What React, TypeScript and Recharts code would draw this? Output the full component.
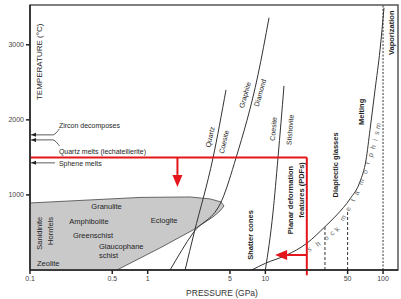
import React from "react"
import {
  ComposedChart,
  XAxis,
  YAxis,
  Line,
  Area,
  Scatter,
  ReferenceLine,
  ReferenceArea,
} from "recharts"

// Axis ticks (pressure in GPa, temperature in °C)
const X_TICKS = [0.1, 0.5, 1, 5, 10, 50, 100]
const Y_TICKS = [1000, 2000, 3000]
const X_DOMAIN = [0.1, 134]
const Y_DOMAIN = [0, 3530]

// Phase boundaries
const quartzCoesite = [
  { p: 2.08, t: 0 },
  { p: 2.48, t: 493 },
  { p: 3.59, t: 1493 },
  { p: 4.63, t: 2400 },
]
const graphiteDiamond = [
  { p: 1.55, t: 0 },
  { p: 2.43, t: 493 },
  { p: 4.28, t: 933 },
  { p: 5.63, t: 1493 },
  { p: 8.66, t: 2600 },
  { p: 10.74, t: 3360 },
]
const coesiteStishovite = [
  { p: 10.0, t: 0 },
  { p: 11.6, t: 760 },
  { p: 12.8, t: 1493 },
  { p: 14.4, t: 2453 },
]
const shockCurve = [
  { p: 7.66, t: 0 },
  { p: 10.0, t: 89 },
  { p: 15.2, t: 200 },
  { p: 22.5, t: 356 },
  { p: 32.1, t: 577 },
  { p: 40.4, t: 733 },
  { p: 52.4, t: 947 },
  { p: 63.7, t: 1177 },
  { p: 71.7, t: 1467 },
  { p: 77.5, t: 1867 },
  { p: 85.5, t: 2400 },
  { p: 94.3, t: 2933 },
  { p: 101.9, t: 3493 },
]

// Metamorphic facies field (closed outline)
const facies = [
  { p: 0.1, t: 0 },
  { p: 0.1, t: 893 },
  { p: 0.861, t: 967 },
  { p: 2.29, t: 973 },
  { p: 3.39, t: 947 },
  { p: 4.2, t: 907 },
  { p: 4.45, t: 853 },
  { p: 4.12, t: 787 },
  { p: 3.59, t: 707 },
  { p: 2.43, t: 533 },
  { p: 1.27, t: 293 },
  { p: 0.548, t: 0 },
  { p: 0.1, t: 0 },
]

// Dashed pressure limits
const dashed30 = [{ p: 32.1, t: 0 }, { p: 32.1, t: 577 }]
const dashed50 = [{ p: 50, t: 0 }, { p: 50, t: 790 }]
const dashed100 = [{ p: 100, t: 0 }, { p: 100, t: 3530 }]

// Red frame and arrows
const redHorizontal = [{ p: 0.1, t: 1500 }, { p: 22.5, t: 1500 }]
const redDownShaft = [{ p: 1.79, t: 1500 }, { p: 1.79, t: 1267 }]
const redLeftShaft = [{ p: 22.5, t: 200 }, { p: 15.3, t: 200 }]

// Small pointers on the temperature axis
const zirconPointer = [
  { p: 0.102, t: 1800 },
  { p: 0.1567, t: 1800 },
  { p: 0.1697, t: 1840 },
  { p: 0.178, t: 1880 },
]
const quartzPointer = [
  { p: 0.102, t: 1733 },
  { p: 0.1567, t: 1733 },
  { p: 0.1697, t: 1693 },
  { p: 0.178, t: 1653 },
]
const sphenePointer = [{ p: 0.102, t: 1427 }, { p: 0.163, t: 1427 }]

const RED = "#e3161b"

const arrowHeads = [
  { p: 1.79, t: 1107, dir: "down", len: 12, half: 5, color: RED },
  { p: 12.1, t: 200, dir: "left", len: 12, half: 5, color: RED },
  { p: 0.102, t: 1800, dir: "left", len: 5, half: 2, color: "#222" },
  { p: 0.102, t: 1733, dir: "left", len: 5, half: 2, color: "#222" },
  { p: 0.102, t: 1427, dir: "left", len: 5, half: 2, color: "#222" },
]

const labels = [
  { text: "TEMPERATURE (°C)", p: 0.1216, t: 2773, angle: -90, size: 8 },
  { text: "Zircon decomposes", p: 0.176, t: 1920, anchor: "start", size: 7 },
  { text: "Quartz melts (lechatellierite)", p: 0.176, t: 1573, anchor: "start", size: 7 },
  { text: "Sphene melts", p: 0.176, t: 1423, anchor: "start", size: 7 },
  { text: "Granulite", p: 0.447, t: 840 },
  { text: "Amphibolite", p: 0.317, t: 640 },
  { text: "Greenschist", p: 0.343, t: 453 },
  { text: "Glaucophane", p: 0.385, t: 307, anchor: "start" },
  { text: "schist", p: 0.385, t: 193, anchor: "start" },
  { text: "Sanidinite", p: 0.12, t: 489, angle: -90 },
  { text: "Hornfels", p: 0.148, t: 520, angle: -90 },
  { text: "Zeolite", p: 0.143, t: 80 },
  { text: "Eclogite", p: 1.38, t: 653 },
  { text: "Quartz", p: 3.39, t: 1773, angle: -77, size: 7 },
  { text: "Coesite", p: 4.45, t: 1707, angle: -77, size: 7 },
  { text: "Graphite", p: 6.71, t: 2333, angle: -74, size: 7 },
  { text: "Diamond", p: 9.01, t: 2360, angle: -74, size: 7 },
  { text: "Coesite", p: 11.7, t: 1880, angle: -85, size: 7 },
  { text: "Stishovite", p: 16.2, t: 1867, angle: -85, size: 7 },
  { text: "Shatter cones", p: 7.51, t: 467, angle: -90, bold: true },
  { text: "Planar deformation", p: 16.2, t: 933, angle: -90, bold: true },
  { text: "features (PDFs)", p: 20.1, t: 1067, angle: -90, bold: true },
  { text: "Diaplectic glasses", p: 39.1, t: 1400, angle: -90, bold: true },
  { text: "Melting", p: 65.9, t: 2107, angle: -90, bold: true },
  { text: "Vaporization", p: 117, t: 3160, angle: -90, bold: true },
]

// "shock metamorphism" letters set along the curve
const shockLetters = [
  { text: "s", p: 23.5, t: 280, angle: -33 },
  { text: "h", p: 28.0, t: 347, angle: -35 },
  { text: "o", p: 32.8, t: 427, angle: -40 },
  { text: "c", p: 36.9, t: 493, angle: -45 },
  { text: "k", p: 40.6, t: 547, angle: -50 },
  { text: "m", p: 45.7, t: 693, angle: -58 },
  { text: "e", p: 50.4, t: 813, angle: -62 },
  { text: "t", p: 55.1, t: 933, angle: -65 },
  { text: "a", p: 59.5, t: 1027, angle: -66 },
  { text: "m", p: 65.0, t: 1173, angle: -68 },
  { text: "o", p: 70.3, t: 1307, angle: -70 },
  { text: "r", p: 73.8, t: 1427, angle: -72 },
  { text: "p", p: 78.3, t: 1533, angle: -73 },
  { text: "h", p: 82.2, t: 1640, angle: -74 },
  { text: "i", p: 85.5, t: 1733, angle: -75 },
  { text: "s", p: 88.1, t: 1827, angle: -76 },
  { text: "m", p: 90.6, t: 1920, angle: -77 },
]

const FONT = "'Liberation Sans', Arial, Helvetica, sans-serif"

function renderLabel(props: any) {
  const { cx, cy, payload } = props
  const a = payload.angle ?? 0
  return (
    <text
      x={cx}
      y={cy}
      transform={a ? `rotate(${a} ${cx} ${cy})` : undefined}
      textAnchor={payload.anchor ?? "middle"}
      dominantBaseline="central"
      fontSize={payload.size ?? 7.5}
      fontWeight={payload.bold ? "bold" : "normal"}
      fill="#1e1e1e"
      fontFamily={FONT}
    >
      {payload.text}
    </text>
  )
}

function renderLetter(props: any) {
  const { cx, cy, payload } = props
  return (
    <text
      x={cx}
      y={cy}
      transform={`rotate(${payload.angle} ${cx} ${cy})`}
      textAnchor="middle"
      dominantBaseline="central"
      fontSize={7}
      fill="#666"
      fontFamily={FONT}
    >
      {payload.text}
    </text>
  )
}

function renderHead(props: any) {
  const { cx, cy, payload } = props
  const { dir, len, half, color } = payload
  const pts =
    dir === "down"
      ? `${cx},${cy} ${cx - half},${cy - len} ${cx + half},${cy - len}`
      : `${cx},${cy} ${cx + len},${cy - half} ${cx + len},${cy + half}`
  return <polygon points={pts} fill={color} />
}

const thin = { stroke: "#333", strokeWidth: 1, dot: false, activeDot: false, isAnimationActive: false } as const

export default function App() {
  return (
    <div style={{ position: "absolute", left: 0, top: 0, background: "#fff" }}>
      <ComposedChart
        width={401}
        height={299}
        margin={{ top: 5, right: 3, left: 0, bottom: 0 }}
        style={{ fontFamily: FONT }}
      >
        <XAxis
          dataKey="p"
          type="number"
          scale="log"
          domain={X_DOMAIN}
          allowDataOverflow
          ticks={X_TICKS}
          height={29}
          tickSize={4}
          tick={{ fontSize: 7, fill: "#444" }}
          stroke="#222"
          strokeWidth={1.5}
          label={{ value: "PRESSURE (GPa)", position: "insideBottom", offset: 3, dx: 8, fontSize: 8.5, fill: "#333" }}
        />
        <YAxis
          dataKey="t"
          type="number"
          domain={Y_DOMAIN}
          allowDataOverflow
          ticks={Y_TICKS}
          width={30}
          tickSize={4}
          tick={{ fontSize: 7, fill: "#444" }}
          stroke="#222"
          strokeWidth={1.5}
        />
        <ReferenceArea
          x1={X_DOMAIN[0]}
          x2={X_DOMAIN[1]}
          y1={Y_DOMAIN[0]}
          y2={Y_DOMAIN[1]}
          fill="none"
          stroke="#555"
          strokeWidth={1.5}
        />
        <Area
          data={facies}
          dataKey="t"
          type="linear"
          fill="#c9c9c9"
          fillOpacity={1}
          stroke="#444"
          strokeWidth={0.8}
          dot={false}
          activeDot={false}
          isAnimationActive={false}
        />
        <Line data={quartzCoesite} dataKey="t" type="monotone" {...thin} />
        <Line data={graphiteDiamond} dataKey="t" type="monotone" {...thin} />
        <Line data={coesiteStishovite} dataKey="t" type="monotone" {...thin} />
        <Line data={shockCurve} dataKey="t" type="monotone" {...thin} />
        <Line data={dashed30} dataKey="t" {...thin} strokeDasharray="3 2" />
        <Line data={dashed50} dataKey="t" {...thin} strokeDasharray="3 2" />
        <Line data={dashed100} dataKey="t" {...thin} strokeDasharray="2 1.5" />
        <Line data={zirconPointer} dataKey="t" type="monotone" {...thin} strokeWidth={0.8} />
        <Line data={quartzPointer} dataKey="t" type="monotone" {...thin} strokeWidth={0.8} />
        <Line data={sphenePointer} dataKey="t" {...thin} strokeWidth={0.8} />
        <Line data={redHorizontal} dataKey="t" {...thin} stroke={RED} strokeWidth={2} />
        <Line data={redDownShaft} dataKey="t" {...thin} stroke={RED} strokeWidth={2} />
        <Line data={redLeftShaft} dataKey="t" {...thin} stroke={RED} strokeWidth={2} />
        <ReferenceLine
          segment={[
            { x: 22.5, y: 1500 },
            { x: 22.5, y: -70 },
          ]}
          stroke={RED}
          strokeWidth={2}
          ifOverflow="visible"
        />
        <Scatter data={arrowHeads} shape={renderHead} isAnimationActive={false} />
        <Scatter data={labels} shape={renderLabel} isAnimationActive={false} />
        <Scatter data={shockLetters} shape={renderLetter} isAnimationActive={false} />
      </ComposedChart>
    </div>
  )
}
